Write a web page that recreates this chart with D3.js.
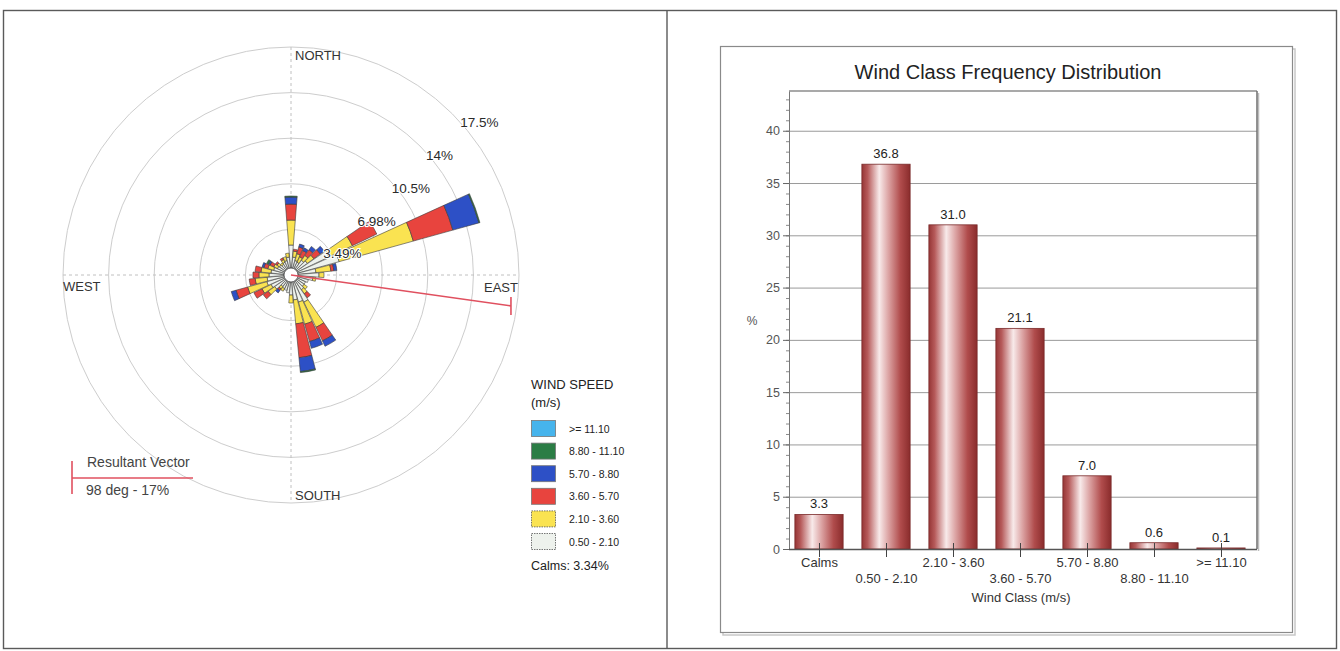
<!DOCTYPE html>
<html>
<head>
<meta charset="utf-8">
<script src="https://cdn.jsdelivr.net/npm/d3@7"></script>
<style>
  html, body { margin: 0; padding: 0; background: #fff; }
  svg { display: block; font-family: Arial, "Liberation Sans", sans-serif; }
</style>
</head>
<body>
<svg id="chart" width="1340" height="651"></svg>
<script>
// ---------- Wind rose data (percent of all hours, by sector the wind blows from) ----------
const directions = [0, 10, 20, 30, 40, 50, 60, 70, 80, 90, 100, 110, 120, 130, 140, 150, 160, 170,
                    180, 190, 200, 210, 220, 230, 240, 250, 260, 270, 280, 290, 300, 310, 320, 330, 340, 350];
const speedClasses = ["0.50 - 2.10", "2.10 - 3.60", "3.60 - 5.70", "5.70 - 8.80", "8.80 - 11.10", ">= 11.10"];
const speed050to210 = [1.76, 0.84, 0.61, 0.54, 0.84, 1.00, 2.68, 3.29, 1.38, 1.61, 1.15, 0.84, 0.69, 0.69, 0.84, 1.76, 1.61, 1.38,
                       1.00, 0.84, 0.69, 0.61, 0.54, 1.00, 1.15, 1.38, 1.30, 1.15, 1.00, 0.84, 0.61, 0.54, 0.46, 0.54, 0.61, 0.84];
const speed210to360 = [1.91, 0.46, 0.54, 0.46, 0.46, 0.61, 1.99, 5.89, 1.15, 0.38, 0.23, 0, 0, 0.31, 0.38, 2.14, 1.76, 1.84,
                       0.61, 0, 0, 0.23, 0.23, 0.61, 0.77, 1.53, 0.92, 0.77, 0.77, 0.46, 0.31, 0.23, 0.15, 0.23, 0.31, 0.31];
const speed360to570 = [1.22, 0.15, 0.54, 0.54, 0.54, 0.61, 2.07, 3.14, 0.23, 0, 0, 0, 0, 0, 0.38, 1.15, 1.38, 2.60,
                       0, 0, 0, 0, 0.15, 0.46, 0.69, 0.92, 0.46, 0.46, 0.46, 0.31, 0.31, 0.15, 0, 0.15, 0, 0];
const speed570to880 = [0.54, 0, 0.23, 0.23, 0.31, 0.38, 0, 2.07, 0.23, 0, 0, 0, 0, 0, 0, 0.46, 0.54, 1.07,
                       0, 0, 0, 0, 0.23, 0, 0, 0.38, 0, 0, 0, 0.15, 0.15, 0, 0, 0, 0, 0];
const speed880to1110 = [0.08, 0, 0, 0, 0, 0, 0, 0.08, 0, 0, 0, 0, 0, 0, 0, 0, 0, 0.08,
                        0, 0, 0, 0, 0, 0, 0, 0, 0, 0, 0, 0, 0.15, 0, 0, 0, 0, 0];
const speedAbove1110 = [0, 0, 0, 0, 0, 0, 0, 0, 0, 0, 0, 0, 0, 0, 0, 0, 0, 0,
                        0, 0, 0, 0, 0, 0, 0, 0, 0, 0, 0, 0, 0, 0, 0, 0, 0, 0];
const ringValues = [3.49, 6.98, 10.47, 13.96, 17.45];
const ringLabels = ["3.49%", "6.98%", "10.5%", "14%", "17.5%"];
const calmsPct = 3.34;
const resultantDeg = 98;
const resultantPct = 17;

// ---------- Wind class frequency data ----------
const windClasses = ["Calms", "0.50 - 2.10", "2.10 - 3.60", "3.60 - 5.70", "5.70 - 8.80", "8.80 - 11.10", ">= 11.10"];
const classFreq = [3.3, 36.8, 31.0, 21.1, 7.0, 0.6, 0.1];
const yTicks = [0, 5, 10, 15, 20, 25, 30, 35, 40];

const svg = d3.select("#chart");
const FONT = "Arial, 'Liberation Sans', sans-serif";

// ---------- Page frame ----------
svg.append("rect").attr("x", 3.5).attr("y", 10.5).attr("width", 1333).attr("height", 638)
  .attr("fill", "none").attr("stroke", "#5a5a5a").attr("stroke-width", 1.4);
svg.append("line").attr("x1", 667).attr("x2", 667).attr("y1", 10.5).attr("y2", 648.5)
  .attr("stroke", "#5a5a5a").attr("stroke-width", 1.4);

// ---------- Wind rose ----------
const cx = 291, cy = 275, outerR = 228, calmR = 7;
const rScale = d3.scaleLinear().domain([0, 17.45]).range([0, outerR]);
const rose = svg.append("g").attr("transform", `translate(${cx},${cy})`);

rose.selectAll("circle.ring").data(ringValues).join("circle")
  .attr("class", "ring").attr("r", d => rScale(d))
  .attr("fill", "none").attr("stroke", "#cdcdcd").attr("stroke-width", 1);

rose.append("line").attr("x1", 0).attr("x2", 0).attr("y1", -outerR).attr("y2", outerR)
  .attr("stroke", "#c0c0c0").attr("stroke-dasharray", "3,3");
rose.append("line").attr("x1", -outerR).attr("x2", outerR).attr("y1", 0).attr("y2", 0)
  .attr("stroke", "#c0c0c0").attr("stroke-dasharray", "3,3");

const speedSeries = [speed050to210, speed210to360, speed360to570, speed570to880, speed880to1110, speedAbove1110];
const speedColors = ["#eef2ed", "#fae351", "#e8443e", "#2d50c6", "#2b7d45", "#46b4ec"];
const halfWidth = 4.5 * Math.PI / 180;
const arcGen = d3.arc();
const petals = rose.append("g");
directions.forEach((deg, i) => {
  const a = deg * Math.PI / 180;
  let cum = 0;
  speedSeries.forEach((series, k) => {
    const v = series[i];
    if (!v) return;
    const inner = calmR + rScale(cum);
    cum += v;
    const outer = calmR + rScale(cum);
    petals.append("path")
      .attr("d", arcGen({innerRadius: inner, outerRadius: outer, startAngle: a - halfWidth, endAngle: a + halfWidth}))
      .attr("fill", speedColors[k])
      .attr("stroke", "#3a3a3a").attr("stroke-width", 0.6);
  });
});

// calm circle
rose.append("circle").attr("r", calmR).attr("fill", "#fff").attr("stroke", "#444").attr("stroke-width", 0.8);

// resultant vector
const vecColor = "#e0505f";
const va = resultantDeg * Math.PI / 180;
const vr = rScale(resultantPct);
const vx = vr * Math.sin(va), vy = -vr * Math.cos(va);
rose.append("line").attr("x1", 0).attr("y1", 0).attr("x2", vx).attr("y2", vy)
  .attr("stroke", vecColor).attr("stroke-width", 1.6);
rose.append("line")
  .attr("x1", vx).attr("y1", vy - 9)
  .attr("x2", vx).attr("y2", vy + 9)
  .attr("stroke", vecColor).attr("stroke-width", 1.6);

// ring labels along the 46 degree line
rose.selectAll("text.ringlab").data(ringValues).join("text")
  .attr("class", "ringlab")
  .attr("x", d => 0.751 * rScale(d) - 2)
  .attr("y", d => -0.718 * rScale(d) + 16)
  .attr("font-size", 13.5).attr("fill", "#2a2a2a")
  .attr("stroke", "#fff").attr("stroke-width", 2.2).attr("paint-order", "stroke")
  .text((d, i) => ringLabels[i]);

// compass labels
const compass = rose.append("g").attr("font-size", 13).attr("fill", "#333");
compass.append("text").attr("x", 4).attr("y", -outerR + 13).text("NORTH");
compass.append("text").attr("x", 4).attr("y", outerR - 3).text("SOUTH");
compass.append("text").attr("x", -outerR).attr("y", 16).text("WEST");
compass.append("text").attr("x", outerR - 1).attr("y", 17).attr("text-anchor", "end").text("EAST");

// resultant vector legend
const rv = svg.append("g");
rv.append("line").attr("x1", 72).attr("x2", 193).attr("y1", 478).attr("y2", 478)
  .attr("stroke", vecColor).attr("stroke-width", 1.6);
rv.append("line").attr("x1", 72).attr("x2", 72).attr("y1", 461).attr("y2", 494)
  .attr("stroke", vecColor).attr("stroke-width", 1.6);
rv.append("text").attr("x", 87).attr("y", 467).attr("font-size", 14).attr("fill", "#444").text("Resultant Vector");
rv.append("text").attr("x", 86).attr("y", 495).attr("font-size", 14).attr("fill", "#444")
  .text(`${resultantDeg} deg - ${resultantPct}%`);

// wind speed legend
const lg = svg.append("g").attr("fill", "#222");
lg.append("text").attr("x", 531).attr("y", 389).attr("font-size", 13).text("WIND SPEED");
lg.append("text").attr("x", 531).attr("y", 407).attr("font-size", 13).text("(m/s)");
const legendOrder = d3.range(speedClasses.length).reverse();
legendOrder.forEach((k, j) => {
  const top = 420 + j * 22.6;
  lg.append("rect").attr("x", 531.5).attr("y", top + 0.5).attr("width", 24).attr("height", 16)
    .attr("fill", speedColors[k])
    .attr("stroke", k <= 1 ? "#555" : "#777").attr("stroke-width", 0.8)
    .attr("stroke-dasharray", k <= 1 ? "1.5,1" : null);
  lg.append("text").attr("x", 569).attr("y", top + 12.5).attr("font-size", 10.5).attr("fill", "#222")
    .text(speedClasses[k]);
});
lg.append("text").attr("x", 531).attr("y", 570).attr("font-size", 12.5).attr("fill", "#222")
  .text(`Calms: ${calmsPct.toFixed(2)}%`);

// ---------- Bar chart ----------
const defs = svg.append("defs");
const grad = defs.append("linearGradient").attr("id", "barGrad").attr("x1", "0").attr("x2", "1").attr("y1", "0").attr("y2", "0");
[[0, "#963636"], [0.12, "#b65a5a"], [0.36, "#f8eaea"], [0.55, "#dca4a4"], [0.8, "#b04c4c"], [1, "#8a2c2c"]]
  .forEach(([o, c]) => grad.append("stop").attr("offset", o).attr("stop-color", c));

// chart frame with a soft shadow
svg.append("rect").attr("x", 723).attr("y", 49).attr("width", 572).attr("height", 586)
  .attr("fill", "none").attr("stroke", "#c8c8c8").attr("stroke-width", 1.5);
svg.append("rect").attr("x", 720.5).attr("y", 46.5).attr("width", 572).attr("height", 586)
  .attr("fill", "#fff").attr("stroke", "#8a8a8a").attr("stroke-width", 1.2);

svg.append("text").attr("x", 1008).attr("y", 79).attr("text-anchor", "middle")
  .attr("font-size", 20).attr("fill", "#222").text("Wind Class Frequency Distribution");

const plotL = 789, plotR = 1257, plotT = 91, plotB = 549;
const yScale = d3.scaleLinear().domain([0, 43.8]).range([plotB, plotT]);
const xScale = d3.scaleBand().domain(windClasses).range([785.5, 1254.5]).paddingInner(0.28).paddingOuter(0.14);

// grid
svg.append("g").selectAll("line").data(yTicks.filter(d => d > 0)).join("line")
  .attr("x1", plotL).attr("x2", plotR).attr("y1", d => yScale(d) + 0.5).attr("y2", d => yScale(d) + 0.5)
  .attr("stroke", "#9a9a9a").attr("stroke-width", 1);
// plot border (top and right) with shadow
svg.append("line").attr("x1", plotL).attr("x2", plotR).attr("y1", plotT).attr("y2", plotT)
  .attr("stroke", "#8c8c8c").attr("stroke-width", 1.5);
svg.append("line").attr("x1", plotR + 1.5).attr("x2", plotR + 1.5).attr("y1", plotT + 2).attr("y2", plotB + 2)
  .attr("stroke", "#bdbdbd").attr("stroke-width", 1.5);
svg.append("line").attr("x1", plotR).attr("x2", plotR).attr("y1", plotT).attr("y2", plotB)
  .attr("stroke", "#6e6e6e").attr("stroke-width", 1.5);

// y axis with minor ticks
const yMinor = svg.append("g").attr("transform", `translate(${plotL},0)`)
  .call(d3.axisLeft(yScale).tickValues(d3.range(0, 44)).tickSize(3).tickFormat(""));
yMinor.select(".domain").remove();
yMinor.selectAll("line").attr("stroke", "#8a8a8a");
const yAxis = svg.append("g").attr("transform", `translate(${plotL},0)`)
  .call(d3.axisLeft(yScale).tickValues(yTicks).tickSize(6).tickSizeOuter(0).tickPadding(3));
yAxis.select(".domain").attr("stroke", "#777");
yAxis.selectAll(".tick line").attr("stroke", "#666");
yAxis.selectAll("text").attr("font-size", 12.5).attr("fill", "#555").attr("font-family", FONT);
svg.append("text").attr("x", 752).attr("y", 325).attr("text-anchor", "middle")
  .attr("font-size", 12).attr("fill", "#555").text("%");

// bars
svg.append("g").selectAll("rect").data(classFreq).join("rect")
  .attr("x", (d, i) => xScale(windClasses[i]))
  .attr("y", d => yScale(d))
  .attr("width", xScale.bandwidth())
  .attr("height", d => plotB - yScale(d))
  .attr("fill", "url(#barGrad)")
  .attr("stroke", "#7a2a2a").attr("stroke-width", 0.8);

// value labels
svg.append("g").selectAll("text").data(classFreq).join("text")
  .attr("x", (d, i) => xScale(windClasses[i]) + xScale.bandwidth() / 2)
  .attr("y", d => yScale(d) - 6)
  .attr("text-anchor", "middle").attr("font-size", 13).attr("fill", "#222")
  .text(d => d.toFixed(1));

// x axis
svg.append("line").attr("x1", plotL).attr("x2", plotR).attr("y1", plotB + 0.5).attr("y2", plotB + 0.5)
  .attr("stroke", "#555").attr("stroke-width", 1.5);
const xg = svg.append("g");
windClasses.forEach((c, i) => {
  const x = Math.round(xScale(c) + xScale.bandwidth() / 2) + 0.5;
  xg.append("line").attr("x1", x).attr("x2", x).attr("y1", plotB - 6).attr("y2", plotB + 8)
    .attr("stroke", "#444").attr("stroke-width", 1);
  xg.append("text").attr("x", x).attr("y", i % 2 === 0 ? 567 : 583)
    .attr("text-anchor", "middle").attr("font-size", 13).attr("fill", "#333").text(c);
});
svg.append("text").attr("x", 1021).attr("y", 602).attr("text-anchor", "middle")
  .attr("font-size", 13).attr("fill", "#333").text("Wind Class (m/s)");
</script>
</body>
</html>
